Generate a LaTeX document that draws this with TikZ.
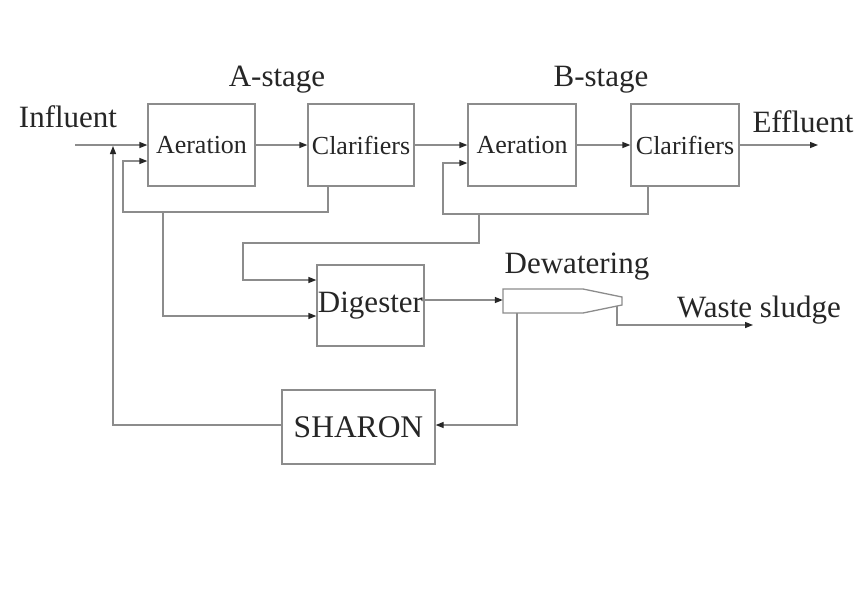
\documentclass[tikz,border=0pt]{standalone}
\usepackage{fontspec}
\setmainfont{Liberation Serif}
\usetikzlibrary{arrows.meta}
\definecolor{ln}{HTML}{8C8C8C}
\definecolor{tx}{HTML}{262626}
\begin{document}
\begin{tikzpicture}[x=1pt,y=-1pt,
  box/.style={draw=ln,line width=1.3pt,minimum width=#1,inner sep=0pt,text=tx},
  box/.default=107pt,
  lbl/.style={text=tx,inner sep=0pt,font=\fontsize{31}{32}\selectfont},
  con/.style={draw=ln,line width=1.3pt},
  arr/.style={con,-{Triangle[length=8pt,width=6pt,color=tx]}}]
\useasboundingbox (0,0) rectangle (866,598);
\fill[white] (0,0) rectangle (866,598);
% boxes
\node[box=107pt,minimum height=82pt,font=\fontsize{26}{27}\selectfont] (aerA) at (201.5,145) {Aeration};
\node[box=106pt,minimum height=82pt,font=\fontsize{26}{27}\selectfont] (clA) at (361,145) {Clarifiers};
\node[box=108pt,minimum height=82pt,font=\fontsize{26}{27}\selectfont] (aerB) at (522,145) {Aeration};
\node[box=108pt,minimum height=82pt,font=\fontsize{26}{27}\selectfont] (clB) at (685,145) {Clarifiers};
\node[box=107pt,minimum height=81pt,font=\fontsize{31}{32}\selectfont] (dig) at (370.5,305.5) {Digester};
\node[box=153pt,minimum height=74pt,font=\fontsize{31.5}{32}\selectfont] (sha) at (358.5,427) {SHARON};
% dewatering unit
\node[minimum width=119pt,minimum height=24pt,inner sep=0pt] (dew) at (562.5,301) {};
\draw[con] (503,289) -- (583,289) -- (622,297) -- (622,305) -- (583,313) -- (503,313) -- cycle;
% labels
\node[lbl] (infl) at (68,117) {Influent};
\node[lbl] (ast) at (277,80) {A-stage};
\node[lbl] (bst) at (601,80) {B-stage};
\node[lbl] (effl) at (803,122) {Effluent};
\node[lbl] (dewl) at (577,267) {Dewatering};
\node[lbl] (wst) at (759,310) {Waste sludge};
% coordinates
\coordinate (inS) at (75,145);
\coordinate (effE) at (818,145);
\coordinate (wsE) at (753,325);
% main line
\draw[arr] (inS) -- (aerA.west);
\draw[arr] (aerA.east) -- (clA.west);
\draw[arr] (clA.east) -- (aerB.west);
\draw[arr] (aerB.east) -- (clB.west);
\draw[arr] (clB.east) -- (effE);
% A-stage return
\draw[arr] (clA.south -| 328,0) -- (328,212) -- (123,212) -- (123,161) -- (aerA.west |- 0,161);
\draw[arr] (163,212) -- (163,316) -- (dig.west |- 0,316);
% B-stage return
\draw[arr] (clB.south -| 648,0) -- (648,214) -- (443,214) -- (443,163) -- (aerB.west |- 0,163);
\draw[arr] (479,214) -- (479,243) -- (243,243) -- (243,280) -- (dig.west |- 0,280);
% digester to dewatering
\draw[arr] (dig.east |- 0,300) -- (dew.west |- 0,300);
\draw[arr] (617,306) -- (617,325) -- (wsE);
\draw[arr] (517,313) -- (517,425) -- (sha.east |- 0,425);
\draw[arr] (sha.west |- 0,425) -- (113,425) -- (113,146);
\end{tikzpicture}
\end{document}
